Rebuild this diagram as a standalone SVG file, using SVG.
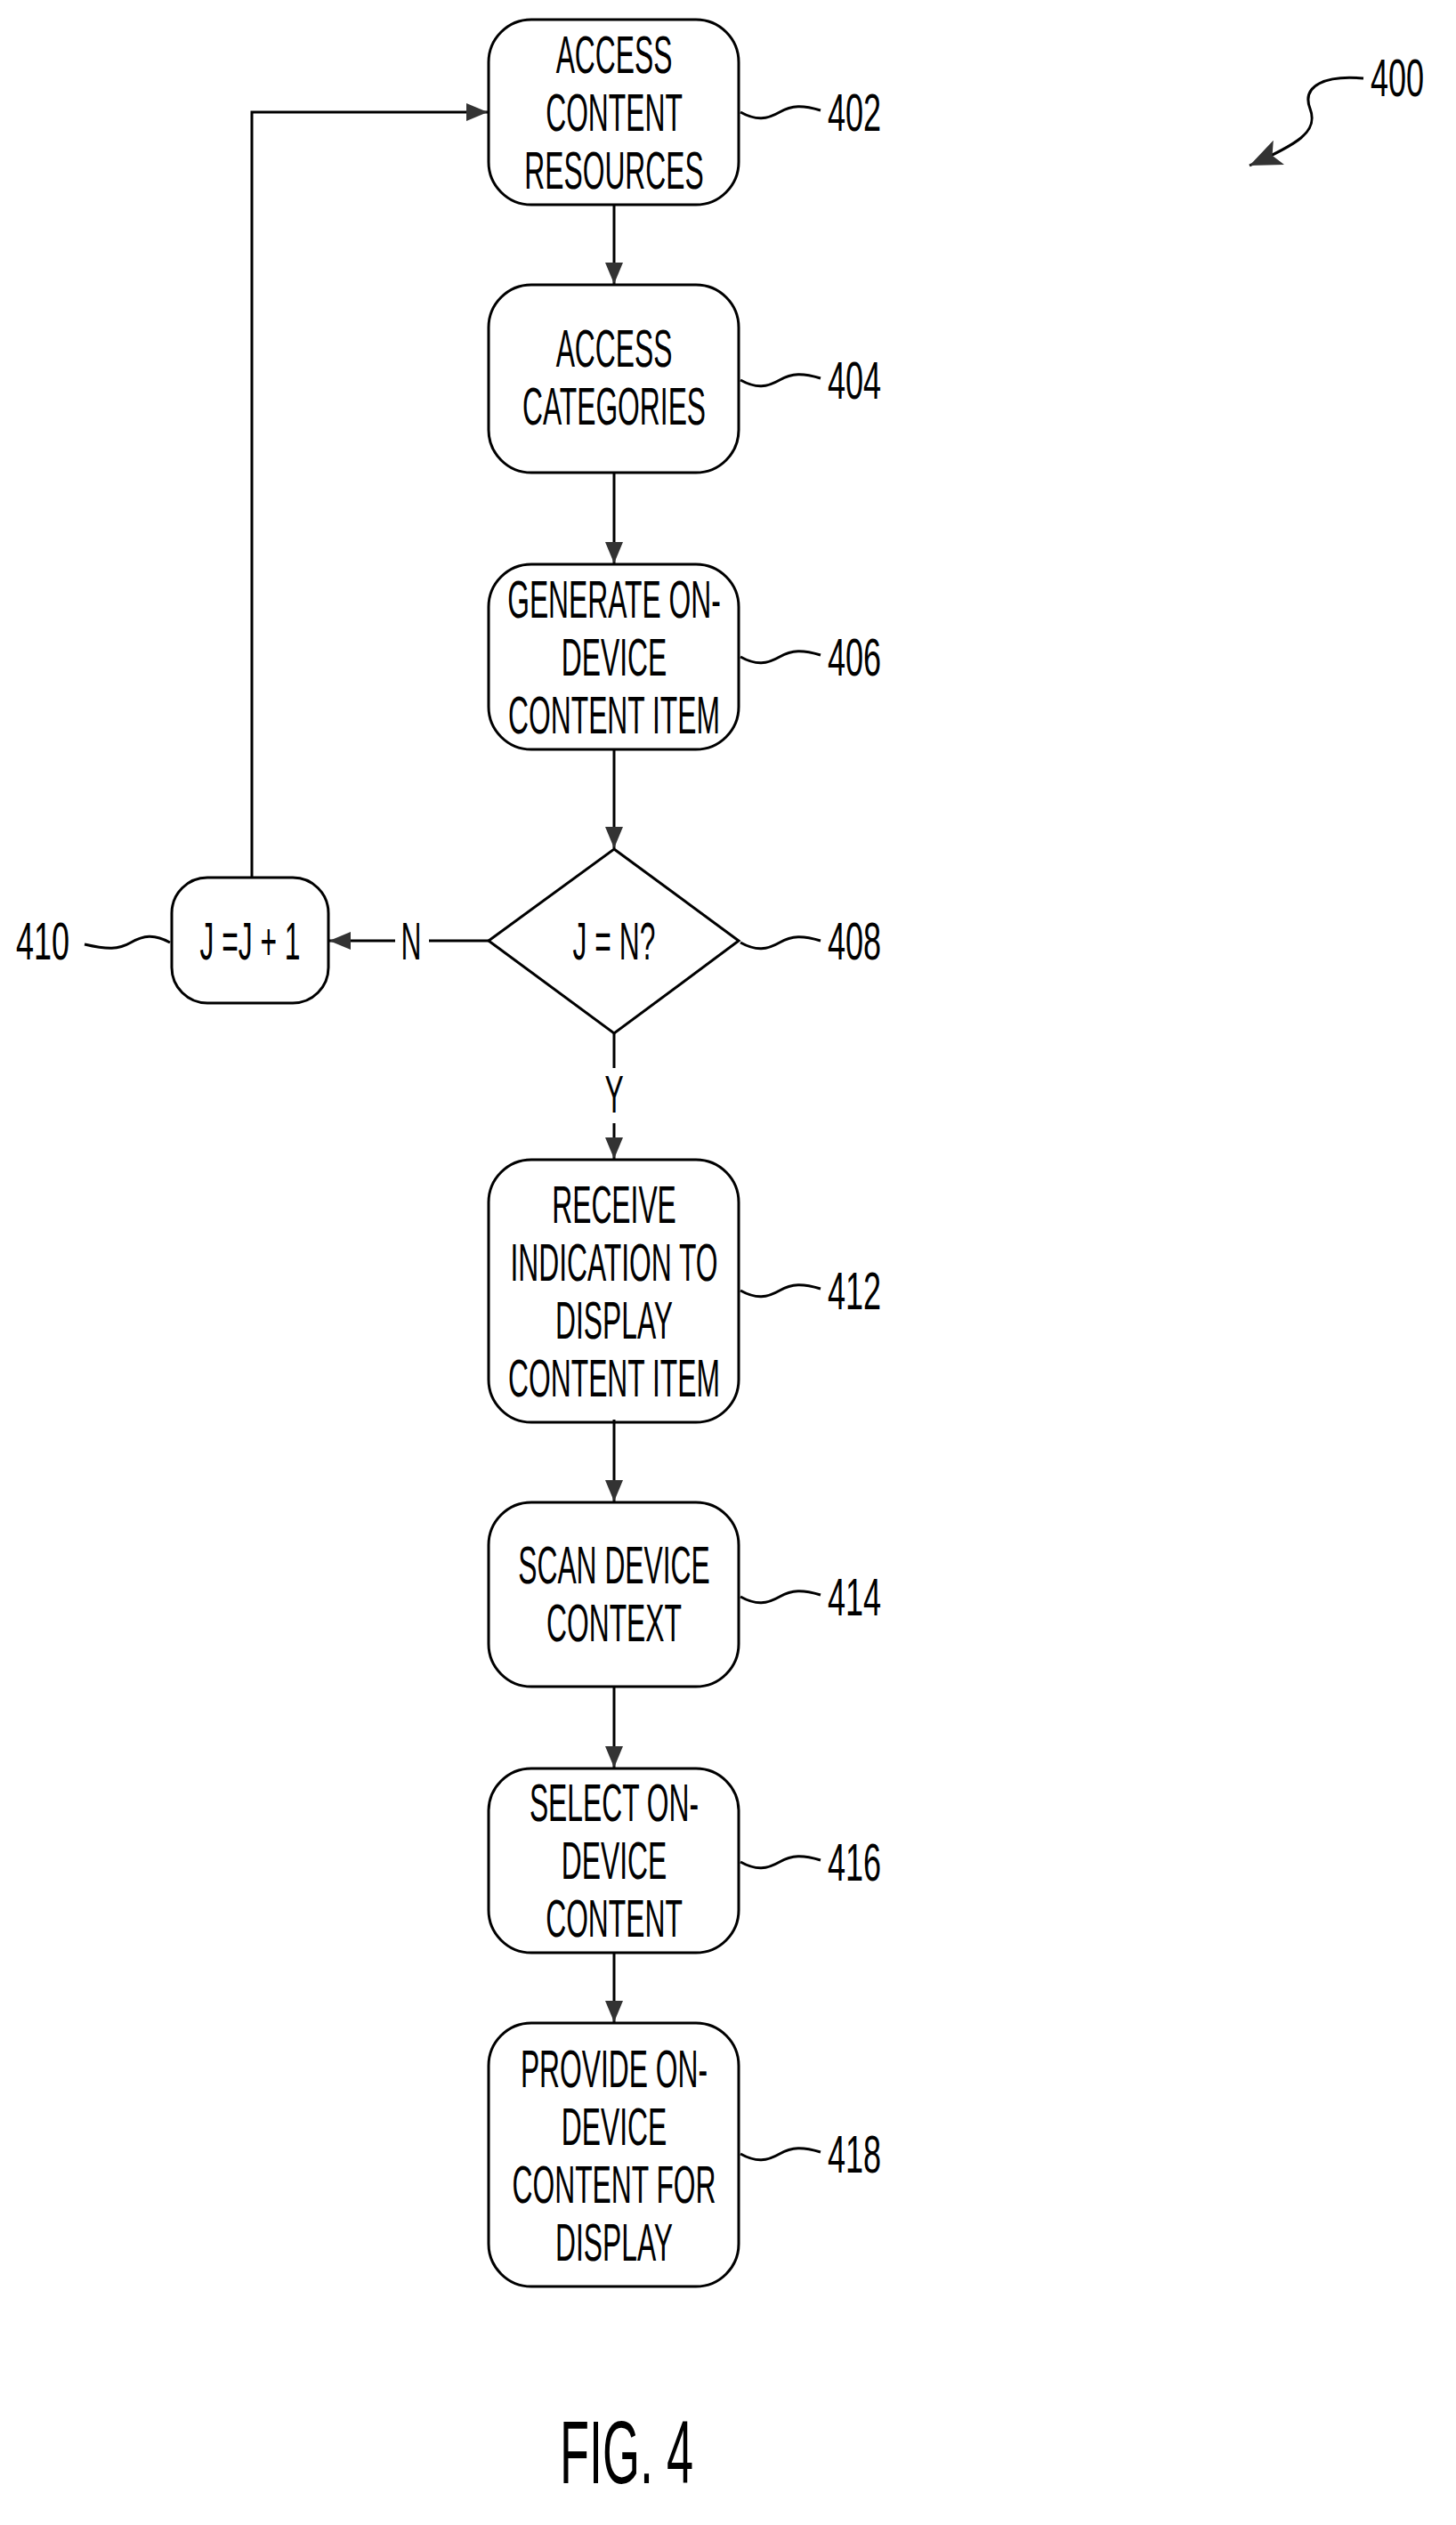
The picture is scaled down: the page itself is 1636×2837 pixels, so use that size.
<svg xmlns="http://www.w3.org/2000/svg" width="1636" height="2837" viewBox="0 0 1636 2837">
<style>
.b{fill:#fff;stroke:#000;stroke-width:3}
.t{font-family:"Liberation Sans",Arial,sans-serif;font-size:60px;text-anchor:middle;fill:#000}
.n{font-family:"Liberation Sans",Arial,sans-serif;font-size:60px;fill:#000}
.l{fill:none;stroke:#000;stroke-width:3}
.c{fill:none;stroke:#000;stroke-width:3}
</style>
<defs>
<marker id="a" markerWidth="10" markerHeight="10" refX="9" refY="5" orient="auto" markerUnits="userSpaceOnUse" viewBox="0 0 10 10" style="overflow:visible">
<path d="M0,0 L10,5 L0,10 Z" fill="#333" transform="scale(2.4)" transform-origin="10 5"/>
</marker>
<marker id="ab" viewBox="0 0 24 20" refX="24" refY="10" markerWidth="24" markerHeight="20" orient="auto" markerUnits="userSpaceOnUse">
<path d="M0,0 L24,10 L0,20 Z" fill="#333"/>
</marker>
<marker id="ac" viewBox="0 0 36 30" refX="36" refY="15" markerWidth="36" markerHeight="30" orient="auto" markerUnits="userSpaceOnUse">
<path d="M0,0 L36,15 L0,30 L8,15 Z" fill="#333"/>
</marker>
</defs>
<g id="n402"><rect class="b" x="549" y="22" width="281" height="208" rx="48"/>
<text class="t" transform="translate(690,82) scale(0.53,1)">ACCESS</text>
<text class="t" transform="translate(690,147) scale(0.53,1)">CONTENT</text>
<text class="t" transform="translate(690,212) scale(0.53,1)">RESOURCES</text>
<path class="l" d="M832,126 C850,136 862,134 876,126 S902,118 922,124"/>
<text class="n" transform="translate(930,147) scale(0.6,1)">402</text></g>
<g id="n404"><rect class="b" x="549" y="320" width="281" height="211" rx="48"/>
<text class="t" transform="translate(690,412) scale(0.53,1)">ACCESS</text>
<text class="t" transform="translate(690,477) scale(0.53,1)">CATEGORIES</text>
<path class="l" d="M832,427 C850,437 862,435 876,427 S902,419 922,425"/>
<text class="n" transform="translate(930,448) scale(0.6,1)">404</text></g>
<g id="n406"><rect class="b" x="549" y="634" width="281" height="208" rx="48"/>
<text class="t" transform="translate(690,694) scale(0.53,1)">GENERATE ON-</text>
<text class="t" transform="translate(690,759) scale(0.53,1)">DEVICE</text>
<text class="t" transform="translate(690,824) scale(0.53,1)">CONTENT ITEM</text>
<path class="l" d="M832,738 C850,748 862,746 876,738 S902,730 922,736"/>
<text class="n" transform="translate(930,759) scale(0.6,1)">406</text></g>
<g id="n408"><path class="b" d="M690,954 L830,1057 L690,1161 L549,1057 Z"/>
<text class="t" transform="translate(690,1078) scale(0.53,1)">J = N?</text>
<path class="l" d="M832,1059 C850,1069 862,1067 876,1059 S902,1051 922,1057"/>
<text class="n" transform="translate(930,1078) scale(0.6,1)">408</text></g>
<g id="n410"><rect class="b" x="193" y="986" width="176" height="141" rx="40"/>
<text class="t" transform="translate(281,1078) scale(0.53,1)">J =J + 1</text>
<path class="l" d="M191,1059 C173,1049 161,1051 147,1059 S121,1067 95,1061"/>
<text class="n" transform="translate(18,1078) scale(0.6,1)">410</text></g>
<g id="n412"><rect class="b" x="549" y="1303" width="281" height="295" rx="48"/>
<text class="t" transform="translate(690,1374) scale(0.53,1)">RECEIVE</text>
<text class="t" transform="translate(690,1439) scale(0.53,1)">INDICATION TO</text>
<text class="t" transform="translate(690,1504) scale(0.53,1)">DISPLAY</text>
<text class="t" transform="translate(690,1569) scale(0.53,1)">CONTENT ITEM</text>
<path class="l" d="M832,1450 C850,1460 862,1458 876,1450 S902,1442 922,1448"/>
<text class="n" transform="translate(930,1471) scale(0.6,1)">412</text></g>
<g id="n414"><rect class="b" x="549" y="1688" width="281" height="207" rx="48"/>
<text class="t" transform="translate(690,1779) scale(0.53,1)">SCAN DEVICE</text>
<text class="t" transform="translate(690,1844) scale(0.53,1)">CONTEXT</text>
<path class="l" d="M832,1794 C850,1804 862,1802 876,1794 S902,1786 922,1792"/>
<text class="n" transform="translate(930,1815) scale(0.6,1)">414</text></g>
<g id="n416"><rect class="b" x="549" y="1987" width="281" height="207" rx="48"/>
<text class="t" transform="translate(690,2046) scale(0.53,1)">SELECT ON-</text>
<text class="t" transform="translate(690,2111) scale(0.53,1)">DEVICE</text>
<text class="t" transform="translate(690,2176) scale(0.53,1)">CONTENT</text>
<path class="l" d="M832,2092 C850,2102 862,2100 876,2092 S902,2084 922,2090"/>
<text class="n" transform="translate(930,2113) scale(0.6,1)">416</text></g>
<g id="n418"><rect class="b" x="549" y="2273" width="281" height="296" rx="48"/>
<text class="t" transform="translate(690,2345) scale(0.53,1)">PROVIDE ON-</text>
<text class="t" transform="translate(690,2410) scale(0.53,1)">DEVICE</text>
<text class="t" transform="translate(690,2475) scale(0.53,1)">CONTENT FOR</text>
<text class="t" transform="translate(690,2540) scale(0.53,1)">DISPLAY</text>
<path class="l" d="M832,2420 C850,2430 862,2428 876,2420 S902,2412 922,2418"/>
<text class="n" transform="translate(930,2441) scale(0.6,1)">418</text></g>
<g id="connectors">
<path class="c" d="M690,230 V319" marker-end="url(#ab)"/>
<path class="c" d="M690,531 V633" marker-end="url(#ab)"/>
<path class="c" d="M690,842 V953" marker-end="url(#ab)"/>
<path class="c" d="M690,1161 V1200"/>
<text class="t" transform="translate(690,1250) scale(0.53,1)">Y</text>
<path class="c" d="M690,1262 V1302" marker-end="url(#ab)"/>
<path class="c" d="M549,1057 H482"/>
<text class="t" transform="translate(462,1078) scale(0.53,1)">N</text>
<path class="c" d="M444,1057 H370" marker-end="url(#ab)"/>
<path class="c" d="M283,986 V126 H548" marker-end="url(#ab)"/>
<path class="c" d="M690,1595 V1687" marker-end="url(#ab)"/>
<path class="c" d="M690,1895 V1986" marker-end="url(#ab)"/>
<path class="c" d="M690,2194 V2272" marker-end="url(#ab)"/>
<path class="c" d="M1532,88 C1490,84 1462,96 1472,122 S1458,162 1404,186" marker-end="url(#ac)"/>
</g>
<text class="n" transform="translate(1540,108) scale(0.6,1)">400</text>
<text class="t" style="font-size:100px" transform="translate(704,2790) scale(0.54,1)">FIG. 4</text>
</svg>
